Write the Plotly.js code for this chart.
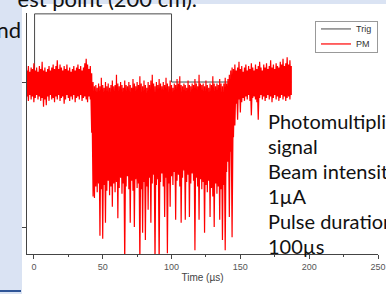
<!DOCTYPE html>
<html><head><meta charset="utf-8">
<script src="https://cdn.plot.ly/plotly-3.0.1.min.js"></script>
<style>
html,body{margin:0;padding:0;width:386px;height:294px;overflow:hidden;background:#dae3f3;position:relative;}
#panel{position:absolute;left:22px;top:4px;width:364px;height:290px;background:#fff;}
#chart{position:absolute;left:22px;top:4px;width:364px;height:290px;}
.slide{position:absolute;font-family:Lato,"Open Sans",sans-serif;color:#111;white-space:nowrap;}
#bar{position:absolute;left:0;top:290px;width:21px;height:2px;background:#2f5597;}
</style></head>
<body>
<div id="panel"></div>
<div id="chart"></div>
<div class="slide" style="right:189px;top:-16px;font-size:22px;line-height:29px;text-align:right;">est point (200 cm).</div>
<div class="slide" style="right:365px;top:15px;font-size:22px;line-height:29px;text-align:right;">nd</div>
<div class="slide" style="left:268px;top:109px;font-size:20px;line-height:25px;">Photomultiplier<br>signal<br>Beam intensity<br>1µA<br>Pulse duration<br>100µs</div>
<div id="bar"></div>
<script>
// Time axis of the PM record: one envelope sample per microsecond
var pmStart = -5;   // µs
var pmStep = 1;     // µs
// Upper envelope of the PM signal per sample (arb. units)
var pmMax = [
 0.08,0.11,0.07,0.10,0.09,0.13,0.08,0.10,0.07,0.11,0.09,0.14,0.08,0.10,0.07,0.09,0.11,0.08,0.10,0.12,0.09,0.11,0.15,0.09,
 0.12,0.10,0.08,0.11,0.09,0.12,0.08,0.10,0.07,0.09,0.11,0.08,0.10,0.12,0.09,0.11,0.08,0.10,0.13,0.16,0.12,0.09,0.11,0.06,
 0.00,-0.03,-0.02,-0.04,-0.01,-0.03,0.03,-0.02,-0.04,0.00,
 -0.03,-0.01,-0.04,-0.02,0.01,-0.03,-0.02,0.05,-0.01,-0.03,
 0.00,-0.02,-0.04,0.01,-0.02,-0.03,0.00,-0.02,-0.04,0.02,
 -0.01,-0.03,0.00,-0.02,0.04,-0.01,-0.03,0.01,-0.02,-0.04,
 0.00,-0.02,0.01,0.05,-0.01,-0.03,0.00,-0.02,0.02,-0.01,
 -0.03,0.00,-0.02,0.03,-0.01,-0.03,0.01,-0.02,-0.04,-0.01,
 -0.02,0.02,-0.01,0.04,-0.02,-0.03,-0.01,-0.02,-0.04,0.01,
 -0.02,-0.03,-0.01,-0.02,0.02,-0.01,-0.03,0.05,-0.01,-0.02,
 -0.01,-0.03,0.01,-0.02,-0.04,-0.01,-0.02,0.04,-0.01,-0.03,
 -0.01,-0.02,0.02,-0.01,-0.03,-0.01,0.03,-0.01,0.02,0.05,
 0.08,0.10,
 0.09,0.12,0.08,0.10,0.14,0.09,0.11,0.07,0.10,0.12,0.08,0.11,0.09,0.13,0.10,0.08,0.12,0.09,0.11,0.14,0.10,0.08,
 0.12,0.10,0.13,0.09,0.11,0.15,0.10,0.12,0.09,0.13,0.11,0.10,0.14,0.12,0.16,0.11,0.13,0.17,0.12,0.15,0.11
];
// Lower envelope of the PM signal per sample (arb. units)
var pmMin = [
 -0.10,-0.13,-0.09,-0.12,-0.10,-0.14,-0.11,-0.09,-0.12,-0.10,-0.13,-0.11,-0.17,-0.12,-0.16,-0.10,-0.13,-0.09,-0.12,-0.11,-0.14,-0.10,-0.12,-0.09,
 -0.13,-0.11,-0.10,-0.15,-0.12,-0.09,-0.11,-0.13,-0.10,-0.12,-0.09,-0.14,-0.11,-0.10,-0.12,-0.09,-0.13,-0.11,-0.10,-0.12,-0.14,-0.10,-0.12,-0.35,
 -0.79,-0.80,-0.72,-0.76,-0.70,-1.06,-0.74,-1.08,-0.71,-0.97,
 -0.75,-0.68,-0.78,-0.72,-0.86,-0.70,-0.76,-0.69,-0.94,-0.73,
 -0.66,-0.77,-0.70,-1.25,-0.72,-0.65,-0.74,-0.97,-0.68,-0.75,
 -1.00,-0.67,-0.73,-0.70,-1.25,-0.74,-1.04,-0.69,-1.09,-0.72,
 -0.88,-0.66,-0.97,-0.70,-0.64,-1.25,-0.71,-0.67,-1.25,-0.69,
 -0.63,-0.72,-0.93,-0.66,-1.18,-0.70,-0.86,-0.65,-0.71,-0.62,
 -0.95,-0.68,-0.64,-0.72,-0.97,-0.66,-0.61,-0.95,-0.69,-0.64,
 -0.93,-0.70,-0.63,-0.68,-1.16,-0.66,-0.72,-0.95,-0.67,-0.74,
 -0.69,-1.04,-0.71,-0.76,-0.68,-0.93,-0.73,-0.79,-1.00,-0.70,
 -0.77,-0.72,-0.95,-0.74,-1.09,-0.71,-1.16,-0.62,-0.55,-0.93,
 -0.48,-1.07,
 -0.38,-0.30,-0.15,-0.26,-0.12,-0.21,-0.14,-0.11,-0.13,-0.10,-0.12,-0.09,-0.13,-0.23,-0.11,-0.10,-0.12,-0.14,-0.26,-0.11,-0.09,-0.12,
 -0.10,-0.13,-0.11,-0.09,-0.12,-0.10,-0.14,-0.11,-0.09,-0.12,-0.10,-0.13,-0.11,-0.09,-0.12,-0.10,-0.13,-0.11,-0.10,-0.12,-0.09
];
// Trigger signal
var trigTime  = [-5, 0.5, 0.5, 100, 100, 187];
var trigLevel = [0, 0, 0.47, 0.47, 0, 0];
// Axis ticks
var xTicks = [0, 50, 100, 150, 200, 250];
var yTicks = [-1, 0];

// Envelope drawn as a dense trace: forward and backward passes, each sample
// spanning its max..min, so both diagonals between neighbours are covered.
var px = [], py = [], i, t;
for (i = 0; i < pmMax.length; i++) {
  t = pmStart + i * pmStep;
  px.push(t, t); py.push(pmMax[i], pmMin[i]);
}
for (i = pmMax.length - 1; i >= 0; i--) {
  t = pmStart + i * pmStep;
  px.push(t, t); py.push(pmMax[i], pmMin[i]);
}

var traces = [
  {x: trigTime, y: trigLevel, type: 'scatter', mode: 'lines', name: 'Trig',
   line: {color: '#4a4a4a', width: 1}},
  {x: px, y: py, type: 'scatter', mode: 'lines', name: 'PM',
   line: {color: '#ff0000', width: 1.2}}
];

var layout = {
  width: 364, height: 290,
  margin: {l: 5, r: 8, t: 9, b: 40},
  paper_bgcolor: 'rgba(0,0,0,0)', plot_bgcolor: 'rgba(0,0,0,0)',
  showlegend: true,
  legend: {x: 1, xanchor: 'right', y: 0.967, yanchor: 'top', bgcolor: '#fff',
           bordercolor: '#999', borderwidth: 1,
           font: {family: 'Liberation Sans, Arial, sans-serif', size: 9, color: '#333'}},
  xaxis: {range: [-5, 250], tickvals: xTicks, ticktext: xTicks.map(String),
          ticks: 'outside', ticklen: 4, tickcolor: '#444', showline: true, linecolor: '#444',
          showgrid: false, zeroline: false,
          minor: {dtick: 25, tick0: 0, ticks: 'outside', ticklen: 2, tickcolor: '#444'},
          tickfont: {family: 'Liberation Sans, Arial, sans-serif', size: 9, color: '#555'},
          title: {text: 'Time (µs)', standoff: 3,
                  font: {family: 'Liberation Sans, Arial, sans-serif', size: 10, color: '#444'}}},
  yaxis: {range: [-1.186, 0.476], tickvals: yTicks, showticklabels: false,
          ticks: 'outside', ticklen: 4, tickcolor: '#444', showline: true, linecolor: '#444',
          showgrid: false, zeroline: false}
};

Plotly.newPlot('chart', traces, layout, {staticPlot: true, displayModeBar: false}).then(function (gd) {
  try {
    // compact the legend rows (reference rows are 15 px apart)
    var items = gd.querySelectorAll('.legend .traces');
    var gap = 15, top = 8;
    for (var k = 0; k < items.length; k++) {
      var tr = items[k].getAttribute('transform') || '';
      var m = /translate\(\s*([-\d.]+)[ ,]+([-\d.]+)\)/.exec(tr);
      var xx = m ? parseFloat(m[1]) : 0;
      items[k].setAttribute('transform', 'translate(' + xx + ',' + (top + k * gap) + ')');
    }
    var bg = gd.querySelector('.legend rect.bg');
    if (bg) bg.setAttribute('height', String(top * 2 + (items.length - 1) * gap));
  } catch (e) {}
});
</script>
</body></html>
